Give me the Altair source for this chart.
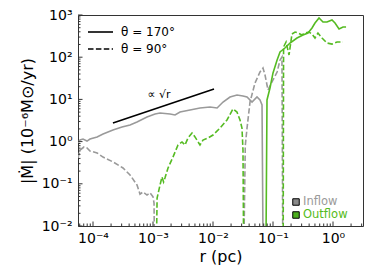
import altair as alt
import pandas as pd

# ---- data (r in pc, |Mdot| in 1e-6 Msun/yr) ----
# theta = 170 deg, inflow (gray solid)
in170_r = [5.62e-5, 6.07e-5, 6.81e-5, 7.94e-5, 8.91e-5, 1.17e-4, 1.47e-4, 2.15e-4, 3.04e-4, 4.14e-4,
           5.41e-4, 7.94e-4, 1.08e-3, 1.31e-3, 1.92e-3, 2.33e-3, 2.82e-3, 4.14e-3, 6.07e-3, 8.91e-3,
           1.17e-2, 1.47e-2, 1.92e-2, 2.51e-2, 3.16e-2, 3.69e-2, 4.47e-2, 5.41e-2, 6.07e-2, 6.56e-2,
           6.95e-2]
in170_m = [0.93, 1.09, 1.15, 1.03, 1.15, 1.29, 1.51, 1.88, 2.22, 2.47,
           2.91, 3.83, 4.51, 4.76, 4.51, 4.27, 5.02, 5.61, 6.25, 6.61,
           6.25, 8.67, 11.4, 12.7, 12.0, 11.4, 8.67, 11.4, 9.7, 7.4,
           1e-4]

# theta = 90 deg, inflow (gray dashed)
in90_r = [5.62e-5, 6.07e-5, 7.08e-5, 7.94e-5, 8.91e-5, 1.17e-4, 1.47e-4, 2.15e-4, 3.16e-4, 4.14e-4,
          5.41e-4, 6.07e-4, 6.81e-4, 7.94e-4, 8.91e-4, 1.0e-3, 1.04e-3, 1.08e-3, 3.16e-2, 3.45e-2,
          3.69e-2, 4.14e-2, 5.01e-2, 6.07e-2, 6.81e-2, 7.36e-2, 8.25e-2, 0.1, 0.117, 0.131,
          0.141, 0.147]
in90_m = [0.41, 0.63, 0.745, 0.705, 0.60, 0.537, 0.43, 0.33, 0.237, 0.162,
          0.094, 0.057, 0.064, 0.054, 0.061, 0.049, 0.035, 1e-4, 1e-4, 0.8,
          2.1, 8.67, 24.5, 44.6, 55.5, 37.8, 16.7, 28.8, 44.6, 85.9,
          101, 1e-4]

# theta = 170 deg, outflow (green solid)
out170_r = [7.5e-2, 7.94e-2, 8.91e-2, 0.1, 0.117, 0.131, 0.158, 0.192, 0.251, 0.316,
            0.383, 0.447, 0.501, 0.585, 0.681, 0.794, 0.962, 1.08, 1.26, 1.47, 1.65]
out170_m = [1e-4, 9.7, 18.6, 42.3, 85.9, 133, 165, 217, 285, 336,
            374, 492, 646, 849, 682, 682, 762, 646, 466, 520, 520]

# theta = 90 deg, outflow (green dashed)
out90_r = [1.1e-3, 1.17e-3, 1.31e-3, 1.41e-3, 1.5e-3, 1.58e-3, 1.78e-3, 2.15e-3, 2.61e-3, 3.04e-3,
           3.41e-3, 3.83e-3, 4.47e-3, 5.01e-3, 6.07e-3, 6.81e-3, 8.25e-3, 1.0e-2, 1.31e-2, 1.71e-2,
           2.15e-2, 2.51e-2, 2.82e-2, 3.04e-2, 3.16e-2, 3.29e-2, 0.147, 0.150, 0.165, 0.185,
           0.207, 0.233, 0.261, 0.304, 0.341, 0.398, 0.447, 0.501, 0.562, 0.656,
           0.794, 0.962, 1.17, 1.47]
out90_m = [1e-4, 0.046, 0.094, 0.145, 0.110, 0.137, 0.237, 0.43, 0.83, 0.98,
           0.83, 1.22, 1.6, 1.29, 0.83, 1.09, 1.22, 1.43, 2.1, 3.25,
           5.93, 5.02, 3.25, 2.1, 0.63, 1e-4, 1e-4, 175, 229, 113,
           355, 395, 374, 336, 374, 395, 355, 285, 374, 285,
           217, 205, 229, 229]

# sqrt(r) guide line
sqrt_r = [2.15e-4, 1.04e-2]
sqrt_m = [2.76, 17.6]

# ticks
xt_major = [1e-4, 1e-3, 1e-2, 1e-1, 1.0]
xt_minor = [6e-5, 7e-5, 8e-5, 9e-5,
            2e-4, 3e-4, 4e-4, 5e-4, 6e-4, 7e-4, 8e-4, 9e-4,
            2e-3, 3e-3, 4e-3, 5e-3, 6e-3, 7e-3, 8e-3, 9e-3,
            2e-2, 3e-2, 4e-2, 5e-2, 6e-2, 7e-2, 8e-2, 9e-2,
            0.2, 0.3, 0.4, 0.5, 0.6, 0.7, 0.8, 0.9,
            2.0, 3.0]
yt_major = [1e-2, 1e-1, 1.0, 10.0, 100.0, 1000.0]
yt_minor = [0.02, 0.03, 0.04, 0.05, 0.06, 0.07, 0.08, 0.09,
            0.2, 0.3, 0.4, 0.5, 0.6, 0.7, 0.8, 0.9,
            2, 3, 4, 5, 6, 7, 8, 9,
            20, 30, 40, 50, 60, 70, 80, 90,
            200, 300, 400, 500, 600, 700, 800, 900]

GRAY = "#9a9a9a"
GREEN = "#55bb22"
FRAME = "#333333"
FONT = "DejaVu Sans"
W, H = 285, 211
DASH = [5.5, 2.4]

xscale = alt.Scale(type="log", domain=[5.62e-5, 3.162], nice=False)
yscale = alt.Scale(type="log", domain=[0.01, 1000], nice=False)

lab = "'10' + ['⁻⁴','⁻³','⁻²','⁻¹','⁰','¹','²','³'][round(log(datum.value) / LN10) + 4]"

xaxis = alt.Axis(values=xt_major, labelExpr=lab, ticks=False, domain=False, grid=False,
                 labelFont=FONT, labelFontSize=14, labelColor="black", labelPadding=5,
                 labelOverlap=False, labelFlush=False,
                 title="r (pc)", titleFont=FONT, titleFontSize=16, titleFontWeight="normal",
                 titleColor="black", titlePadding=3)
yaxis = alt.Axis(values=yt_major, labelExpr=lab, ticks=False, domain=False, grid=False,
                 labelFont=FONT, labelFontSize=14, labelColor="black", labelPadding=6,
                 labelOverlap=False, labelFlush=False,
                 title="|Ṁ| (10⁻⁶M⊙/yr)", titleFont=FONT, titleFontSize=16, titleFontWeight="normal",
                 titleColor="black", titlePadding=6)


def series(r, m, color, dash):
    df = pd.DataFrame({"r": r, "m": m})
    kw = {"color": color, "strokeWidth": 1.6, "clip": True}
    if dash:
        kw["strokeDash"] = DASH
    return alt.Chart(df).mark_line(**kw).encode(
        x=alt.X("r:Q", scale=xscale, axis=xaxis),
        y=alt.Y("m:Q", scale=yscale, axis=yaxis),
    )


layers = [
    series(in170_r, in170_m, GRAY, False),
    series(in90_r, in90_m, GRAY, True),
    series(out170_r, out170_m, GREEN, False),
    series(out90_r, out90_m, GREEN, True),
    series(sqrt_r, sqrt_m, "black", False),
]


def xticks(vals, length):
    return alt.Chart(pd.DataFrame({"r": vals})).mark_rule(color=FRAME, strokeWidth=1).encode(
        x=alt.X("r:Q", scale=xscale, axis=xaxis), y=alt.value(H), y2=alt.value(H - length))


def yticks(vals, length):
    return alt.Chart(pd.DataFrame({"m": vals})).mark_rule(color=FRAME, strokeWidth=1).encode(
        y=alt.Y("m:Q", scale=yscale, axis=yaxis), x=alt.value(0), x2=alt.value(length))


layers += [xticks(xt_major, 4.5), xticks(xt_minor, 2.5), yticks(yt_major, 4.5), yticks(yt_minor, 2.5)]

one = pd.DataFrame({"a": [0]})


def text(t, x, y, color="black", size=12, align="left"):
    return alt.Chart(one).mark_text(text=t, align=align, baseline="middle", font=FONT,
                                    fontSize=size, color=color).encode(x=alt.value(x), y=alt.value(y))


layers += [
    alt.Chart(one).mark_rule(color="black", strokeWidth=1.6).encode(
        x=alt.value(10), x2=alt.value(35), y=alt.value(17)),
    alt.Chart(one).mark_rule(color="black", strokeWidth=1.6, strokeDash=DASH).encode(
        x=alt.value(10), x2=alt.value(35), y=alt.value(34)),
    text("θ = 170°", 43, 17),
    text("θ = 90°", 43, 34),
    text("∝ √r", 81, 80, size=11, align="center"),
    alt.Chart(one).mark_square(size=42, filled=True, fill="#8a8a8a", stroke="black",
                               strokeWidth=1, opacity=1).encode(x=alt.value(218), y=alt.value(187)),
    alt.Chart(one).mark_square(size=42, filled=True, fill="#4caf1e", stroke="black",
                               strokeWidth=1, opacity=1).encode(x=alt.value(218), y=alt.value(200)),
    text("Inflow", 225, 187, color=GRAY, size=11.5),
    text("Outflow", 225, 200, color=GREEN, size=11.5),
]

chart = alt.layer(*layers).properties(
    width=W, height=H,
    autosize=alt.AutoSizeParams(type="none"),
    padding={"left": 70, "top": 7, "right": 3, "bottom": 46},
).configure_view(stroke=FRAME, strokeWidth=1)

chart.save("out.html", embed_options={"renderer": "svg", "actions": False})
